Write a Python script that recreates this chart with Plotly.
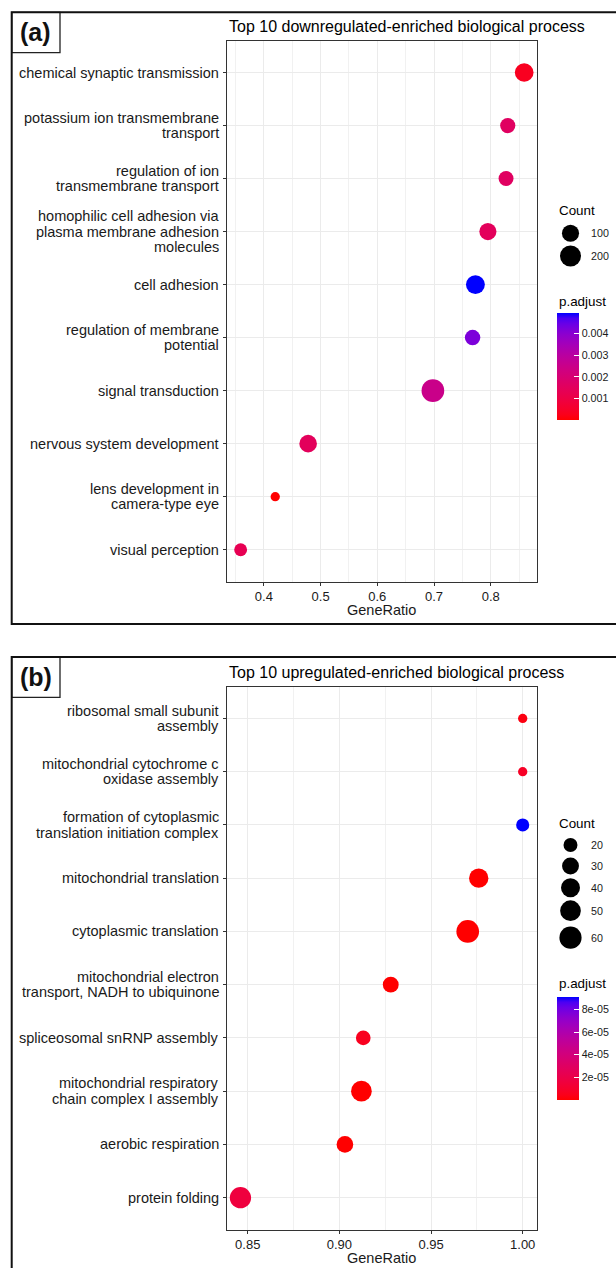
import numpy as np
import plotly.graph_objects as go

# ---------------- data ----------------
terms_a = ["chemical synaptic transmission",
           "potassium ion transmembrane\ntransport",
           "regulation of ion\ntransmembrane transport",
           "homophilic cell adhesion via\nplasma membrane adhesion\nmolecules",
           "cell adhesion",
           "regulation of membrane\npotential",
           "signal transduction",
           "nervous system development",
           "lens development in\ncamera-type eye",
           "visual perception"]
ratio_a = [0.859, 0.830, 0.827, 0.795, 0.773, 0.768, 0.698, 0.478, 0.420, 0.359]
count_a = [135, 66, 62, 100, 140, 70, 255, 110, 20, 37]
padj_a = [0.00035, 0.0016, 0.0016, 0.0015, 0.00494, 0.0042, 0.0025, 0.0015, 0.00001, 0.0013]

terms_b = ["ribosomal small subunit\nassembly",
           "mitochondrial cytochrome c\noxidase assembly",
           "formation of cytoplasmic\ntranslation initiation complex",
           "mitochondrial translation",
           "cytoplasmic translation",
           "mitochondrial electron\ntransport, NADH to ubiquinone",
           "spliceosomal snRNP assembly",
           "mitochondrial respiratory\nchain complex I assembly",
           "aerobic respiration",
           "protein folding"]
ratio_b = [1.000, 1.000, 1.000, 0.976, 0.970, 0.928, 0.913, 0.912, 0.903, 0.846]
count_b = [14, 14, 18, 42, 64, 26, 22, 50, 29, 54]
padj_b = [3e-6, 8e-6, 9.1e-5, 1e-9, 1e-12, 1e-8, 6e-6, 1e-10, 1e-9, 1.6e-5]

title_a = "Top 10 downregulated-enriched biological process"
title_b = "Top 10 upregulated-enriched biological process"
size_breaks_a = [100, 200]
size_breaks_b = [20, 30, 40, 50, 60]
cbar_ticks_a = [0.001, 0.002, 0.003, 0.004]
cbar_text_a = ["0.001", "0.002", "0.003", "0.004"]
cbar_ticks_b = [2e-5, 4e-5, 6e-5, 8e-5]
cbar_text_b = ["2e-05", "4e-05", "6e-05", "8e-05"]

# ---------------- helpers ----------------
W, H = 616, 1268
FONT = "Liberation Sans, Arial, Helvetica, sans-serif"
PL, PR = 226.7, 537.0   # plot area left/right in pixels


def px(x):
    return x / W


def py(y):
    return 1 - y / H


# red -> blue gradient interpolated in CIELAB (like ggplot2)
M = np.array([[0.4124, 0.3576, 0.1805], [0.2126, 0.7152, 0.0722], [0.0193, 0.1192, 0.9505]])
WHITE = np.array([0.95047, 1.0, 1.08883])
D = 6 / 29


def to_lab(rgb):
    c = np.array(rgb) / 255.0
    lin = np.where(c <= 0.04045, c / 12.92, ((c + 0.055) / 1.055) ** 2.4)
    xyz = M @ lin / WHITE
    f = np.where(xyz > D ** 3, np.cbrt(xyz), xyz / (3 * D * D) + 4 / 29)
    return np.array([116 * f[1] - 16, 500 * (f[0] - f[1]), 200 * (f[1] - f[2])])


def from_lab(lab):
    L, a, b = lab
    fy = (L + 16) / 116
    f = np.array([fy + a / 500, fy, fy - b / 200])
    xyz = np.where(f > D, f ** 3, 3 * D * D * (f - 4 / 29)) * WHITE
    lin = np.linalg.solve(M, xyz)
    lin = np.clip(lin, 0, 1)
    c = np.where(lin <= 0.0031308, 12.92 * lin, 1.055 * lin ** (1 / 2.4) - 0.055)
    c = np.clip(np.round(c * 255), 0, 255).astype(int)
    return "rgb(%d,%d,%d)" % tuple(c)


lab_lo, lab_hi = to_lab((255, 0, 0)), to_lab((0, 0, 255))
colorscale = [[t, from_lab(lab_lo + (lab_hi - lab_lo) * t)] for t in np.linspace(0, 1, 21)]


def diam(counts, lo, hi, dmin=9.3, dmax=22.7):
    c = np.asarray(counts, dtype=float)
    return dmin + (dmax - dmin) * np.sqrt(np.clip((c - lo) / (hi - lo), 0, 1))


fig = go.Figure()

panels = [
    dict(terms=terms_a, ratio=ratio_a, count=count_a, padj=padj_a, title=title_a,
         xa="x", ya="y", la=("x3", "y3"), top=40.7, bottom=581.5, xr=[0.3344, 0.8816],
         dtick=0.1, minor=0.05, leg_box=(220, 270),
         fmt=".1f", sbreaks=size_breaks_a, sb_y=[233.3, 256], count_title_y=210.7,
         ctick=cbar_ticks_a, ctext=cbar_text_a, cb_top=313, cb_bot=420, p_title_y=301.7,
         border_top=12.3, border_bot=624, tag="(a)", gr_y=610),
    dict(terms=terms_b, ratio=ratio_b, count=count_b, padj=padj_b, title=title_b,
         xa="x2", ya="y2", la=("x4", "y4"), top=686.5, bottom=1229.6, xr=[0.8385, 1.0078],
         dtick=0.05, minor=0.025, leg_box=(832, 952),
         fmt=".2f", sbreaks=size_breaks_b, sb_y=[845, 866, 887.7, 910.7, 937.7], count_title_y=823,
         ctick=cbar_ticks_b, ctext=cbar_text_b, cb_top=997, cb_bot=1100, p_title_y=984,
         border_top=657, border_bot=1275, tag="(b)", gr_y=1258),
]

annotations = []
shapes = []
layout_axes = {}
LEG_X = (550.0, 592.0)

for i, p in enumerate(panels):
    lo, hi = min(p["count"]), max(p["count"])
    cats = p["terms"][::-1]
    fig.add_trace(go.Scatter(
        x=p["ratio"], y=p["terms"], mode="markers", xaxis=p["xa"], yaxis=p["ya"],
        showlegend=False, hoverinfo="x+y",
        marker=dict(size=diam(p["count"], lo, hi), sizemode="diameter", color=p["padj"],
                    colorscale=colorscale, cmin=min(p["padj"]), cmax=max(p["padj"]),
                    line=dict(width=0), opacity=1,
                    colorbar=dict(x=px(556.7), xanchor="left", xpad=0, ypad=0,
                                  y=py((p["cb_top"] + p["cb_bot"]) / 2), yanchor="middle",
                                  len=p["cb_bot"] - p["cb_top"], lenmode="pixels",
                                  thickness=22.3, thicknessmode="pixels", outlinewidth=0,
                                  tickvals=p["ctick"], ticktext=p["ctext"], ticks="inside",
                                  ticklen=5, tickcolor="white", tickwidth=1,
                                  tickfont=dict(family=FONT, size=10.7, color="#1a1a1a"))),
    ))
    # size legend keys on a small hidden subplot (pixel units) beside the panel
    fig.add_trace(go.Scatter(
        x=[570.5] * len(p["sbreaks"]), y=p["sb_y"], mode="markers",
        xaxis=p["la"][0], yaxis=p["la"][1],
        showlegend=False, hoverinfo="skip", cliponaxis=False,
        marker=dict(size=diam(p["sbreaks"], lo, hi), sizemode="diameter", color="#000000",
                    opacity=1, line=dict(width=0))))
    for v, yy in zip(p["sbreaks"], p["sb_y"]):
        annotations.append(dict(x=px(589), y=py(yy), xref="paper", yref="paper", text=str(v),
                                showarrow=False, xanchor="left", yanchor="middle",
                                font=dict(family=FONT, size=10.7, color="#1a1a1a")))
    annotations.append(dict(x=px(557), y=py(p["count_title_y"]), xref="paper", yref="paper",
                            text="Count", showarrow=False, xanchor="left", yanchor="middle",
                            font=dict(family=FONT, size=13.4, color="black")))
    annotations.append(dict(x=px(557), y=py(p["p_title_y"]), xref="paper", yref="paper",
                            text="p.adjust", showarrow=False, xanchor="left", yanchor="middle",
                            font=dict(family=FONT, size=13.4, color="black")))
    # titles
    annotations.append(dict(x=px(227), y=py(p["top"] - 14.5), xref="paper", yref="paper",
                            text=p["title"], showarrow=False, xanchor="left", yanchor="middle",
                            font=dict(family=FONT, size=16, color="black")))
    annotations.append(dict(x=px(381.8), y=py(p["gr_y"]), xref="paper", yref="paper",
                            text="GeneRatio", showarrow=False, xanchor="center", yanchor="middle",
                            font=dict(family=FONT, size=14.5, color="#1a1a1a")))
    # y-axis labels, line by line
    for idx, term in enumerate(cats):
        lines = term.split("\n")
        n = len(lines)
        for k, ln in enumerate(lines):
            annotations.append(dict(x=px(221), y=idx, xref="paper", yref=p["ya"], text=ln,
                                    showarrow=False, xanchor="right", yanchor="middle",
                                    yshift=((n - 1) / 2 - k) * 15.6,
                                    font=dict(family=FONT, size=14.5, color="#1a1a1a")))
    # tag box
    tb = p["border_top"]
    shapes.append(dict(type="rect", xref="paper", yref="paper", x0=px(11.7), x1=px(60),
                       y0=py(tb), y1=py(tb + 40.4), line=dict(color="#222", width=1.3)))
    annotations.append(dict(x=px(35.8), y=py(tb + 20.2), xref="paper", yref="paper",
                            text="<b>%s</b>" % p["tag"], showarrow=False, xanchor="center",
                            yanchor="middle", font=dict(family=FONT, size=25, color="#111")))
    # outer border
    shapes.append(dict(type="rect", xref="paper", yref="paper", x0=px(11.7), x1=px(620),
                       y0=py(tb), y1=py(p["border_bot"]), line=dict(color="#111", width=2)))

    ax_common = dict(showline=True, mirror=True, linecolor="#333333", linewidth=1,
                     ticks="outside", ticklen=3, tickcolor="#333333", tickwidth=1,
                     showgrid=True, gridcolor="#EBEBEB", gridwidth=1.1, zeroline=False)
    n1 = "" if i == 0 else "2"
    layout_axes["xaxis" + n1] = dict(domain=[px(PL), px(PR)], range=p["xr"], anchor=p["ya"],
                                     tick0=0, dtick=p["dtick"], tickformat=p["fmt"],
                                     tickfont=dict(family=FONT, size=13, color="#1a1a1a"),
                                     minor=dict(dtick=p["minor"], tick0=0, showgrid=True,
                                                gridcolor="#F1F1F1", gridwidth=0.6, ticks=""),
                                     **ax_common)
    layout_axes["yaxis" + n1] = dict(domain=[py(p["bottom"]), py(p["top"])], anchor=p["xa"],
                                     type="category", categoryorder="array", categoryarray=cats,
                                     range=[-0.6, 9.6], showticklabels=False, **ax_common)
    lx, ly = p["la"]
    ytop, ybot = p["leg_box"]
    layout_axes["xaxis" + lx[1:]] = dict(domain=[px(LEG_X[0]), px(LEG_X[1])], anchor=ly,
                                         range=list(LEG_X), visible=False, showgrid=False,
                                         fixedrange=True)
    layout_axes["yaxis" + ly[1:]] = dict(domain=[py(ybot), py(ytop)], anchor=lx,
                                         range=[ybot, ytop], visible=False, showgrid=False,
                                         fixedrange=True)

fig.update_layout(width=W, height=H, margin=dict(l=0, r=0, t=0, b=0),
                  paper_bgcolor="white", plot_bgcolor="white", showlegend=False,
                  annotations=annotations, shapes=shapes, **layout_axes)

fig.write_html("out.html", config={"displayModeBar": False},
               post_script="document.body.style.margin='0px';document.body.style.padding='0px';")
